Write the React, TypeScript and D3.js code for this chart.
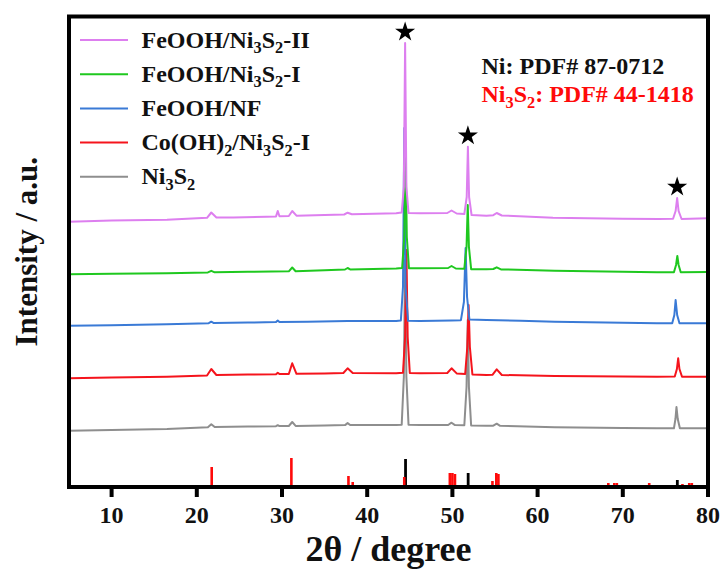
import React from 'react';
import * as d3 from 'd3';

type P = [number, number];

// ---------- data (2θ in degrees, intensity in a.u. as plotted, incl. vertical stacking) ----------
const xTicks = [10, 20, 30, 40, 50, 60, 70, 80];

const seriesNames = ['FeOOH/Ni3S2-II', 'FeOOH/Ni3S2-I', 'FeOOH/NF', 'Co(OH)2/Ni3S2-I', 'Ni3S2'];
const seriesColors = ['#DD7FEF', '#1FC81F', '#3A7AD6', '#F5141C', '#8E8E8E'];

const feoohNi3S2II: P[] = [[5,265.3],[10,266.5],[16.5,267.3],[21.2,269.2],[21.7,274.5],[22.3,269.5],[24.3,269.5],[28.2,270.3],[29.3,270.6],[29.5,276],[29.7,270.7],[30.8,271],[31.2,276],[31.7,271.3],[35,272],[37.3,272.5],[37.7,274.3],[38.2,272.7],[43.4,273.7],[44.05,274.5],[44.3,300],[44.45,444],[44.6,300],[44.85,274],[46.2,273.7],[49.4,274],[49.9,276.5],[50.5,273.5],[51.4,273],[51.68,290],[51.82,340.3],[51.96,290],[52.25,272],[54,271.3],[54.8,271.8],[55.2,274],[55.8,271.5],[61.8,269.3],[70,268.3],[74.2,268],[75.9,268.2],[76.2,276],[76.38,289],[76.55,276],[76.9,268],[80,268.7]];

const feoohNi3S2I: P[] = [[5,212.7],[10,213.2],[16.5,213.7],[21.3,214.6],[21.7,216.2],[22.1,214.7],[26,215.2],[30.8,215.7],[31.2,219.5],[31.6,215.8],[35,216.8],[37.4,217.5],[37.7,219],[38.0,217.6],[43.4,218.6],[44.1,219],[44.35,250],[44.5,337],[44.65,250],[44.9,218.7],[46.2,218.7],[49.5,219],[49.9,221],[50.4,218.5],[51.4,218.3],[51.66,240],[51.8,282],[51.94,240],[52.2,217.8],[54,217.7],[54.8,218],[55.2,219.7],[55.7,217.6],[62,216.3],[70,215.2],[74,214.7],[76.0,214.8],[76.25,222],[76.4,231],[76.55,222],[76.8,214.8],[80,215]];

const feoohNF: P[] = [[5,161.3],[10,161.8],[16.5,162.8],[21.4,163.8],[21.7,165.3],[22.0,163.9],[26,164.5],[29.3,164.9],[29.5,166.5],[29.7,165],[33,165.3],[37.7,165.9],[43.4,166],[43.95,166.5],[44.2,200],[44.35,359],[44.5,200],[44.8,166.2],[46.2,166],[49.9,166.6],[51.0,166.8],[51.35,185],[51.55,239],[51.72,190],[52.0,167.5],[54,167],[58,166.2],[62,165.3],[70,164.3],[74,163.7],[75.8,163.8],[76.05,172],[76.2,187],[76.38,172],[76.65,163.8],[80,163.7]];

const coOH2Ni3S2I: P[] = [[5,108.7],[10,109.5],[16.5,110.3],[21.2,111.5],[21.7,118],[22.3,112],[26,112.5],[29.3,112.8],[29.5,114.3],[29.7,112.9],[30.8,113],[31.2,123.7],[31.7,113.2],[35,113.6],[37.2,114],[37.7,118.7],[38.3,114],[43.4,113.7],[44.2,114.2],[44.45,150],[44.6,237],[44.75,150],[45.0,114],[46.2,113.7],[49.4,114],[49.9,118.7],[50.5,113.6],[51.5,113],[51.75,140],[51.9,182],[52.05,140],[52.35,112.5],[54,112],[54.7,112.2],[55.2,117.7],[55.8,112],[62,111],[70,110.5],[74,110.3],[76.1,110.4],[76.35,118],[76.5,128.7],[76.65,118],[76.95,110.3],[80,110.3]];

const ni3S2: P[] = [[5,56.3],[10,57],[16.5,58],[21.3,59.8],[21.7,62.8],[22.1,60],[26,60.4],[29.3,60.8],[29.5,61.8],[29.7,60.9],[30.8,61],[31.2,65],[31.6,61.1],[35,61.6],[37.4,61.9],[37.7,63.9],[38.0,62],[43.4,62],[44.05,62.3],[44.3,110],[44.45,227],[44.6,110],[44.85,62.2],[46.2,62],[49.5,62],[49.9,64.3],[50.3,61.9],[51.4,61.7],[51.66,100],[51.8,167],[51.94,100],[52.2,61.5],[54,61.3],[54.8,61.3],[55.2,63.3],[55.6,61.2],[62,59.7],[70,59],[74,58.7],[76.0,58.7],[76.18,68],[76.3,80],[76.45,68],[76.7,58.7],[80,58.7]];

// standard reference patterns (2θ, relative intensity)
const niPdf: P[] = [[44.5, 28], [51.85, 14], [76.4, 7]];
const ni3S2Pdf: P[] = [[21.75, 20], [31.1, 29], [37.8, 11], [38.3, 5], [44.35, 10], [49.7, 14], [50.0, 14], [50.3, 13], [54.7, 6], [55.15, 14], [55.4, 13], [68.3, 4], [69.0, 4], [69.3, 4], [73.1, 4], [77.0, 3], [77.8, 4], [78.1, 4]];

// Ni diffraction peaks marked with stars
const starPeaks = [44.45, 51.82, 76.38];

const pdfLabels = ['Ni: PDF# 87-0712', 'Ni3S2: PDF# 44-1418'];
const pdfColors = ['#111111', '#FF0A0A'];

// ---------- layout ----------
const W = 723, H = 571;
const L = 69, R = 708, T = 16.5, B = 487;
const FONT = '"Liberation Serif", "Times New Roman", serif';

function Formula({ text, x, y, size, fill }: { text: string; x: number; y: number; size: number; fill: string }) {
  const parts: { t: string; sub: boolean }[] = [];
  for (let i = 0; i < text.length; i++) {
    const c = text[i];
    const sub = /[0-9]/.test(c) && i > 0 && /[A-Za-z)]/.test(text[i - 1]) && !text.slice(0, i).includes(':');
    const last = parts[parts.length - 1];
    if (last && last.sub === sub) last.t += c;
    else parts.push({ t: c, sub });
  }
  const shift = size * 0.24;
  let prevSub = false;
  return (
    <text x={x} y={y} fontFamily={FONT} fontWeight="bold" fontSize={size} fill={fill}>
      {parts.map((p, i) => {
        const dy = p.sub && !prevSub ? shift : !p.sub && prevSub ? -shift : 0;
        prevSub = p.sub;
        return (
          <tspan key={i} dy={dy} fontSize={p.sub ? size * 0.68 : size}>
            {p.t}
          </tspan>
        );
      })}
    </text>
  );
}

export default function App() {
  const x = d3.scaleLinear().domain([5, 80]).range([L, R]);
  const y = d3.scaleLinear().domain([0, B - T]).range([B, T]);
  const line = d3.line<P>().x((d) => x(d[0])).y((d) => y(d[1]));
  const series = [feoohNi3S2II, feoohNi3S2I, feoohNF, coOH2Ni3S2I, ni3S2];
  const drawOrder = [4, 3, 2, 1, 0];
  const star = d3.symbol().type(d3.symbolStar).size(125)() as string;

  const stars = starPeaks.map((p) => {
    const near = feoohNi3S2II.filter((d) => Math.abs(d[0] - p) < 0.3);
    const top = d3.max(near, (d) => d[1]) as number;
    return { x: x(p), y: y(top + 11) };
  });

  return (
    <svg width={W} height={H} style={{ position: 'absolute', left: 0, top: 0, background: '#fff' }}>
      <rect x={0} y={0} width={W} height={H} fill="#fff" />
      {/* reference bars */}
      <g>
        {niPdf.map((d, i) => (
          <line key={'n' + i} x1={x(d[0])} x2={x(d[0])} y1={y(0)} y2={y(d[1])} stroke="#000" strokeWidth={2.8} />
        ))}
        {ni3S2Pdf.map((d, i) => (
          <line key={'s' + i} x1={x(d[0])} x2={x(d[0])} y1={y(0)} y2={y(d[1])} stroke="#FF0A0A" strokeWidth={2.6} />
        ))}
      </g>
      {/* curves */}
      <g fill="none" strokeLinejoin="round">
        {drawOrder.map((i) => (
          <path key={i} d={line(series[i]) as string} stroke={seriesColors[i]} strokeWidth={2} />
        ))}
      </g>
      {/* stars */}
      {stars.map((s, i) => (
        <path key={i} d={star} transform={`translate(${s.x},${s.y})`} fill="#000" />
      ))}
      {/* frame */}
      <rect x={L} y={T} width={R - L} height={B - T} fill="none" stroke="#000" strokeWidth={4} />
      {/* x ticks */}
      {xTicks.map((t) => (
        <g key={t}>
          <line x1={x(t)} x2={x(t)} y1={B} y2={B + 10} stroke="#000" strokeWidth={4} />
          <text x={x(t)} y={523} textAnchor="middle" fontFamily={FONT} fontWeight="bold" fontSize={24} fill="#111">
            {t}
          </text>
        </g>
      ))}
      <text x={(L + R) / 2} y={561} textAnchor="middle" fontFamily={FONT} fontWeight="bold" fontSize={36} fill="#111">
        2θ / degree
      </text>
      <text
        transform={`translate(37,${(T + B) / 2}) rotate(-90)`}
        textAnchor="middle"
        fontFamily={FONT}
        fontWeight="bold"
        fontSize={31}
        fill="#111"
      >
        Intensity / a.u.
      </text>
      {/* legend */}
      {seriesNames.map((n, i) => {
        const ly = 40 + i * 34.2;
        return (
          <g key={n}>
            <line x1={80} x2={128} y1={ly} y2={ly} stroke={seriesColors[i]} strokeWidth={2} />
            <Formula text={n} x={141.5} y={ly + 7.5} size={24} fill="#111" />
          </g>
        );
      })}
      {/* PDF annotations */}
      {pdfLabels.map((t, i) => (
        <Formula key={t} text={t} x={481.5} y={74 + i * 28} size={24} fill={pdfColors[i]} />
      ))}
    </svg>
  );
}
